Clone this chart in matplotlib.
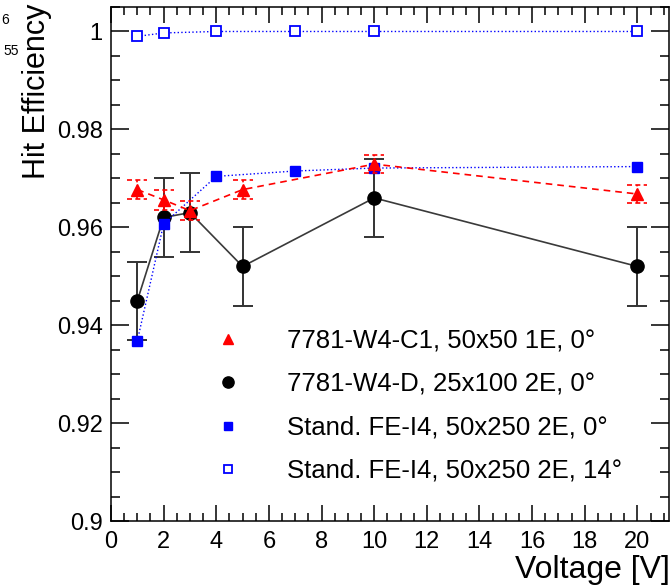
import matplotlib
matplotlib.use("Agg")
import matplotlib.pyplot as plt
import numpy as np

plt.rcParams.update({
    "font.family": ["Liberation Sans", "DejaVu Sans"],
    "axes.linewidth": 1.1,
})

# 7781-W4-C1, 50x50 1E, 0 deg
v_c1 = [1, 2, 3, 5, 10, 20]
eff_c1 = [0.9677, 0.9656, 0.9634, 0.9677, 0.9729, 0.9668]
err_c1 = [0.0019, 0.0021, 0.0020, 0.0019, 0.0019, 0.0019]

# 7781-W4-D, 25x100 2E, 0 deg
v_d = [1, 2, 3, 5, 10, 20]
eff_d = [0.945, 0.962, 0.963, 0.952, 0.966, 0.952]
err_d = [0.008, 0.008, 0.008, 0.008, 0.008, 0.008]

# standard FE-I4, 50x250 2E, 0 deg
v_std0 = [1, 2, 4, 7, 10, 20]
eff_std0 = [0.9368, 0.9607, 0.9704, 0.9715, 0.9721, 0.9724]

# standard FE-I4, 50x250 2E, 14 deg
v_std14 = [1, 2, 4, 7, 10, 20]
eff_std14 = [0.9990, 0.9997, 1.0, 1.0, 1.0, 1.0]

labels = ["7781-W4-C1, 50x50 1E, 0°", "7781-W4-D, 25x100 2E, 0°",
          "Stand. FE-I4, 50x250 2E, 0°", "Stand. FE-I4, 50x250 2E, 14°"]

fig = plt.figure(figsize=(6.72, 5.85), dpi=100)
ax = fig.add_axes([111 / 672, 64 / 585, 558 / 672, 514 / 585])

# black: solid line with symmetric error bars
ax.errorbar(v_d, eff_d, yerr=err_d, fmt="-", color="#3a3a3a", lw=1.2,
            ecolor="#333333", elinewidth=1.4, capsize=7.5, capthick=1.4,
            zorder=2)
h_d, = ax.plot(v_d, eff_d, "o", color="black", ms=9.5, ls="none", zorder=3)

# blue filled: dotted
ax.plot(v_std0, eff_std0, ":", color="blue", lw=1.0, zorder=3)
h_s0, = ax.plot(v_std0, eff_std0, "s", color="blue", ms=7, ls="none", zorder=4)

# red: dashed line, dashed error bars and caps
ax.plot(v_c1, eff_c1, "--", color="red", lw=1.2, dashes=(4, 3), zorder=5)
c1 = np.array(eff_c1)
e1 = np.array(err_c1)
x1 = np.array(v_c1, dtype=float)
ax.vlines(x1, c1 - e1, c1 + e1, colors="red", lw=1.2,
          linestyles=(0, (3, 2)), zorder=5)
cap_w = 0.38
ax.hlines(np.concatenate([c1 - e1, c1 + e1]),
          np.concatenate([x1, x1]) - cap_w,
          np.concatenate([x1, x1]) + cap_w,
          colors="red", lw=1.2, linestyles=(0, (3, 2)), zorder=5)
h_c1, = ax.plot(v_c1, eff_c1, "^", color="red", ms=9, ls="none", zorder=6)

# blue open: dotted
ax.plot(v_std14, eff_std14, ":", color="blue", lw=1.0, zorder=3)
h_s14, = ax.plot(v_std14, eff_std14, "s", mfc="white", mec="blue", mew=1.3,
                 ms=7, ls="none", zorder=4)

ax.set_xlim(0, 21.2)
ax.set_ylim(0.9, 1.005)
ax.set_xticks(np.arange(0, 21, 2))
ax.set_xticks(np.arange(0, 21.2, 0.5), minor=True)
ax.set_yticks([0.9, 0.92, 0.94, 0.96, 0.98, 1.0])
ax.set_yticklabels(["0.9", "0.92", "0.94", "0.96", "0.98", "1"])
ax.set_yticks(np.arange(0.9, 1.0051, 0.005), minor=True)
ax.tick_params(which="both", direction="in", top=True, right=True,
               labelsize=17, width=1.1)
ax.tick_params(axis="y", which="major", length=13, pad=6)
ax.tick_params(axis="y", which="minor", length=6.5)
ax.tick_params(axis="x", which="major", length=11.5, pad=7)
ax.tick_params(axis="x", which="minor", length=6)

fig.text(670 / 672, 1 - 570 / 585, "Voltage [V]", ha="right", va="center",
         fontsize=23)
fig.text(37 / 672, 1 - 4 / 585, "Hit Efficiency", ha="center", va="top",
         rotation=90, fontsize=22)
fig.text(8.5 / 672, 1 - 20 / 585, "6", ha="right", va="center", fontsize=10)
fig.text(19 / 672, 1 - 51 / 585, "55", ha="right", va="center", fontsize=10)

ax.legend([h_c1, h_d, h_s0, h_s14], labels, loc="upper left",
          bbox_to_anchor=((215.5 - 111) / 558, (521 - 329) / 514),
          frameon=False, fontsize=18.5, handlelength=1.0, handletextpad=1.8,
          labelspacing=0.75, borderpad=0, borderaxespad=0, numpoints=1,
          markerscale=0.85)

fig.savefig("out.png", dpi=100)
